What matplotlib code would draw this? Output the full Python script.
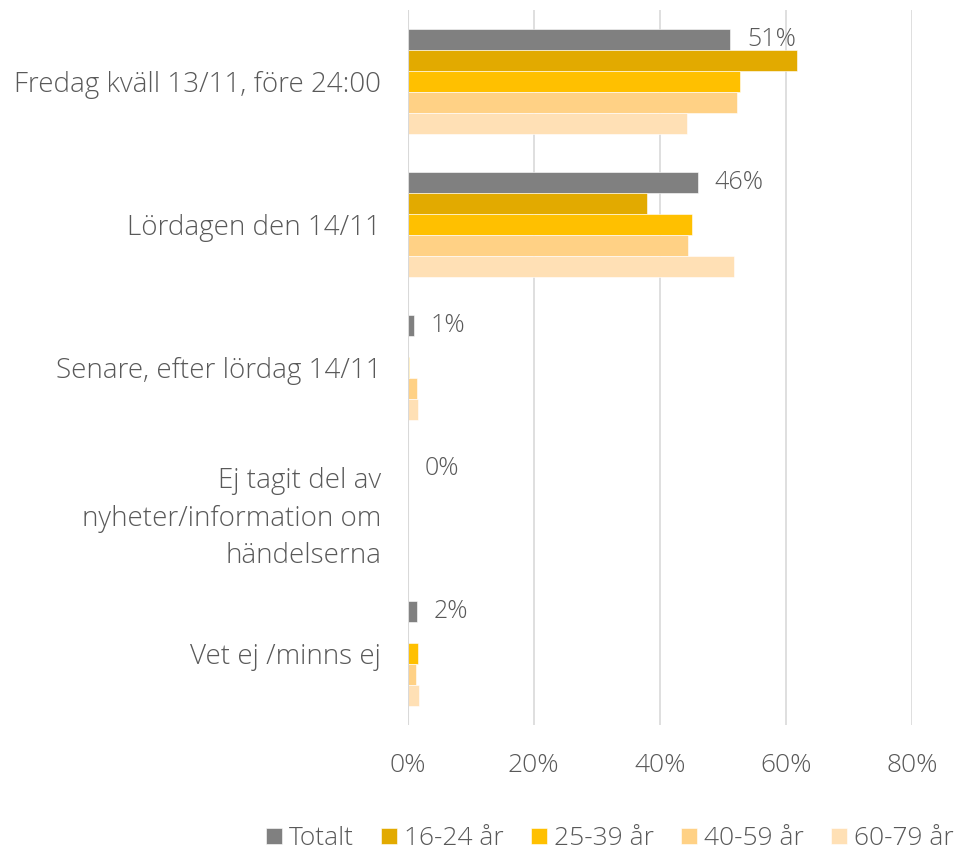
import matplotlib.pyplot as plt
import numpy as np

plt.rcParams['font.family'] = ['Open Sans', 'DejaVu Sans']
plt.rcParams['font.weight'] = 'light'

categories = ['Fredag kväll 13/11, före 24:00', 'Lördagen den 14/11',
              'Senare, efter lördag 14/11',
              'Ej tagit del av\nnyheter/information om\nhändelserna',
              'Vet ej /minns ej']
series = ['Totalt', '16-24 år', '25-39 år', '40-59 år', '60-79 år']
totalt = [51.2, 46.0, 1.0, 0.0, 1.5]
ung = [61.8, 38.0, 0.0, 0.0, 0.0]
mellan = [52.8, 45.1, 0.2, 0.0, 1.6]
aldre = [52.3, 44.5, 1.5, 0.0, 1.3]
aldst = [44.4, 51.8, 1.7, 0.0, 1.8]
total_labels = ['51%', '46%', '1%', '0%', '2%']
values = [totalt, ung, mellan, aldre, aldst]
colors = ['#808080', '#E2AA00', '#FFC000', '#FFD185', '#FFE0B5']

fig = plt.figure(figsize=(9.65, 8.56), dpi=100)
ax = fig.add_axes([0.4223, 0.153, 0.5227, 0.835])

n = len(categories)
y = np.arange(n)
h = 0.147
for i, (name, vals) in enumerate(zip(series, values)):
    pos = y - 2 * h + i * h
    ax.barh(pos, vals, height=h, color=colors[i], label=name,
            edgecolor='white', linewidth=0.4, zorder=3)
    if i == 0:
        for p, v, lab in zip(pos, vals, total_labels):
            ax.annotate(lab, (v, p), xytext=(12, 0), textcoords='offset points',
                        va='center', ha='left', fontsize=18, color='#595959')

ax.set_xlim(0, 80)
ax.set_ylim(n - 0.5, -0.5)
ax.set_yticks(y)
ax.set_yticklabels(categories, fontsize=20, color='#595959', linespacing=1.45)
ax.set_xticks([0, 20, 40, 60, 80])
ax.set_xticklabels(['0%', '20%', '40%', '60%', '80%'], fontsize=19, color='#595959')
ax.tick_params(axis='both', length=0)
ax.tick_params(axis='x', pad=20)
ax.tick_params(axis='y', pad=19)
for s in ax.spines.values():
    s.set_visible(False)
ax.grid(axis='x', color='#D9D9D9', linewidth=1.2, zorder=0)
ax.axvline(0, color='#D9D9D9', linewidth=1.5, zorder=4)

leg = fig.legend(loc='center', bbox_to_anchor=(0.632, 0.02), ncol=5, frameon=False,
                 fontsize=19, handlelength=0.6, handleheight=0.6,
                 handletextpad=0.25, columnspacing=1.05, borderpad=0.2)
for t in leg.get_texts():
    t.set_color('#595959')

fig.savefig('out.png', dpi=100)
